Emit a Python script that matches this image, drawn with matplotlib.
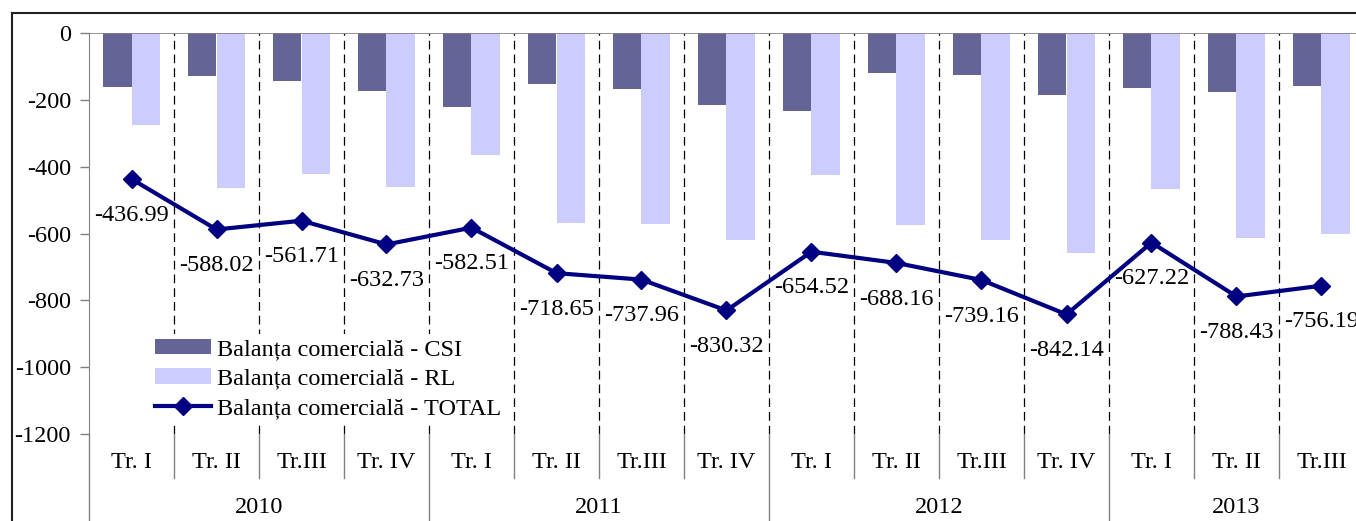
import numpy as np
import matplotlib
matplotlib.use("Agg")
import matplotlib.pyplot as plt
from matplotlib.lines import Line2D

plt.rcParams['font.family'] = ['Liberation Serif', 'DejaVu Serif']
plt.rcParams['axes.unicode_minus'] = False

########
# Data (mil. USD)
quarters = ['Tr. I', 'Tr. II', 'Tr.III', 'Tr. IV'] * 3 + ['Tr. I', 'Tr. II', 'Tr.III']
years = ['2010', '2011', '2012', '2013']
year_len = [4, 4, 4, 3]
csi = [-162, -129, -144, -173, -221, -152, -167, -215, -233, -119, -125, -185, -164, -176, -158]
rl = [-275, -463, -421, -460, -364, -568, -571, -619, -424, -574, -619, -658, -466, -613, -601]
total = [-436.99, -588.02, -561.71, -632.73, -582.51, -718.65, -737.96, -830.32,
         -654.52, -688.16, -739.16, -842.14, -627.22, -788.43, -756.19]
labels = ['Balanța comercială - CSI', 'Balanța comercială - RL', 'Balanța comercială - TOTAL']

c_csi = '#646496'
c_rl = '#ccccff'
c_tot = '#000080'
fs = 17.5

W, H = 1356, 521
fig = plt.figure(figsize=(W / 100, H / 100), dpi=100)
# plot area in pixels: x 89..1364 (cut off on the right), y 33..434
ax = fig.add_axes([89 / W, (H - 434) / H, (1364 - 89) / W, (434 - 33) / H])

x = np.arange(len(total))
bw = 0.335
b1 = ax.bar(x - bw / 2, csi, bw, color=c_csi, label=labels[0], zorder=2)
b2 = ax.bar(x + bw / 2, rl, bw, color=c_rl, label=labels[1], zorder=2)
l3, = ax.plot(x, total, color=c_tot, lw=3.0, marker='D', ms=9, label=labels[2], zorder=4)

for xi, v in zip(x, total):
    ax.annotate('%.2f' % v, (xi, v), xytext=(0, -26), textcoords='offset points',
                ha='center', va='center', fontsize=fs, zorder=5)

# dashed separators between quarters
for b in x[:-1] + 0.5:
    ax.axvline(b, color='black', lw=0.9, ls=(0, (7, 4)), zorder=1)
ax.axhline(0, color='#808080', lw=1.2, zorder=3)

ax.set_xlim(-0.5, len(total) - 0.5)
ax.set_ylim(-1200, 0)
ax.set_yticks(np.arange(-1200, 1, 200))
ax.tick_params(axis='y', length=6.5, width=1, color='#808080', pad=6.5, labelsize=fs)
ax.set_xticks([])
for s in ['top', 'right', 'bottom']:
    ax.spines[s].set_visible(False)
ax.spines['left'].set_color('#808080')

# multi-level category axis below the plot
tr = ax.get_xaxis_transform()
q_row = 44 / 401
starts = np.cumsum([0] + year_len)
for b in x + 0.5:
    if b < len(total) - 0.5:
        big = (b + 0.5) in starts
        ax.plot([b, b], [0, -0.3 if big else -q_row], transform=tr, color='#808080',
                lw=1, clip_on=False)
ax.plot([-0.5, -0.5], [0, -0.3], transform=tr, color='#808080', lw=1, clip_on=False)
for xi, q in zip(x, quarters):
    ax.text(xi, -0.07, q, transform=tr, ha='center', va='center', fontsize=fs)
for i, y in enumerate(years):
    lo = starts[i] - 0.5
    hi = min(starts[i + 1] - 0.5, len(total) - 0.5)
    ax.text((lo + hi) / 2, -0.183, y, transform=tr, ha='center', va='center', fontsize=fs)

leg = ax.legend([b1, b2, l3], labels, loc='upper left',
                bbox_to_anchor=((150 - 89) / 1275, (434 - 334) / 401),
                frameon=True, fontsize=fs, handlelength=2.3, handleheight=0.6,
                handletextpad=0.25, labelspacing=0.34, borderpad=0.2, borderaxespad=0)
leg.get_frame().set_facecolor('white')
leg.get_frame().set_edgecolor('none')
leg.get_frame().set_alpha(1)
leg.set_zorder(6)

# outer chart frame (cut off on the right and at the bottom)
fx, fy = 11.5 / W, 1 - 12.5 / H
fig.add_artist(Line2D([fx, 1.01], [fy, fy], transform=fig.transFigure, color='#222222', lw=1.5))
fig.add_artist(Line2D([fx, fx], [-0.01, fy], transform=fig.transFigure, color='#222222', lw=1.5))

fig.savefig('out.png', dpi=100)
